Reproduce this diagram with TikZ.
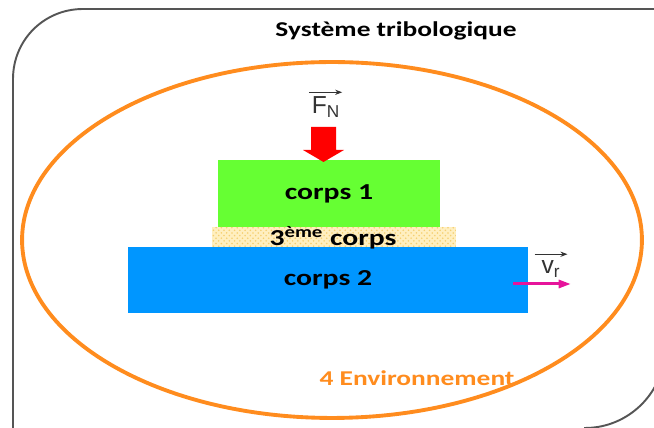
\documentclass[tikz,border=0pt]{standalone}
\usepackage{fontspec}
\setmainfont{Carlito}
\newfontfamily\widefont[FakeStretch=1.3]{Carlito}
\newfontfamily\arialfont{Liberation Sans}
\usepackage{tikz}
\usetikzlibrary{arrows.meta,patterns,calc}
\definecolor{corpsvert}{HTML}{66FF33}
\definecolor{corpsbleu}{HTML}{0096FF}
\definecolor{tiersfond}{HTML}{FFEFC0}
\definecolor{tierspoint}{HTML}{F5CF70}
\definecolor{envorange}{HTML}{FF8C1E}
\definecolor{vitesse}{HTML}{E6149B}
\definecolor{cadre}{HTML}{555555}
\tikzset{
  corps/.style={draw=none, inner sep=0pt, font=\widefont\fontsize{13}{15}\selectfont\bfseries},
  etiq/.style={inner sep=0pt, font=\widefont\fontsize{13}{15}\selectfont\bfseries},
  vecteur/.style={font=\arialfont\fontsize{14}{16}\selectfont, text=black!80, inner sep=1.5pt},
  fleche/.style={-{Stealth[length=4pt,width=3pt]}, line width=0.5pt, black!80},
}
\begin{document}
\begin{tikzpicture}[x=0.02cm, y=-0.02cm]
\useasboundingbox (0,0) rectangle (654,428);
\clip (0,0) rectangle (654,428);
\draw[cadre, line width=1.1pt] (13,440) -- (13,79) .. controls (13,40) and (44,9) .. (83,9) -- (665,9) -- (665,348) .. controls (665,392) and (629,428) .. (585,428) -- (585,440) -- cycle;
\node[font=\widefont\fontsize{12}{14}\selectfont\bfseries] (titre) at (396,31) {Système tribologique};
\draw[envorange, line width=2.2pt] (332,240) ellipse [x radius=6.2cm, y radius=3.56cm];
\node[corps, fill=corpsvert, minimum width=4.44cm, minimum height=1.34cm] (c1) at (329,193.5) {};
\node[etiq] at (c1) {corps 1};
\node[corps, fill=tiersfond, postaction={pattern=crosshatch dots, pattern color=tierspoint}, minimum width=4.88cm, minimum height=0.4cm] (c3) at (334,237) {};
\node[corps, fill=corpsbleu, minimum width=8cm, minimum height=1.32cm] (c2) at (328,280) {};
\node[etiq] (t3) at (333,238) {3\textsuperscript{ème} corps};
\node[etiq] at (c2) {corps 2};
\fill[red] (311,127) -- (336,127) -- (336,150) -- (344,150) -- (323.5,162) -- (303,150) -- (311,150) -- cycle;
\node[vecteur, anchor=south] (fn) at (326,120) {F\textsubscript{N}};
\draw[fleche] ($(fn.north west)+(0,-1)$) -- ($(fn.north east)+(-1,-1)$);
\node[vecteur, anchor=south] (vr) at (551,280) {v\textsubscript{r}};
\draw[fleche] ($(vr.north west)+(-4,-3)$) -- ($(vr.north east)+(4,-3)$);
\coordinate (vdepart) at (513,284);
\coordinate (varrivee) at (571,284);
\draw[vitesse, line width=1.7pt, -{Triangle[length=7pt,width=4.5pt]}] (vdepart) -- (varrivee);
\node[font=\widefont\fontsize{12}{14}\selectfont\bfseries, text=envorange] (env) at (417,378) {4 Environnement};
\end{tikzpicture}
\end{document}
